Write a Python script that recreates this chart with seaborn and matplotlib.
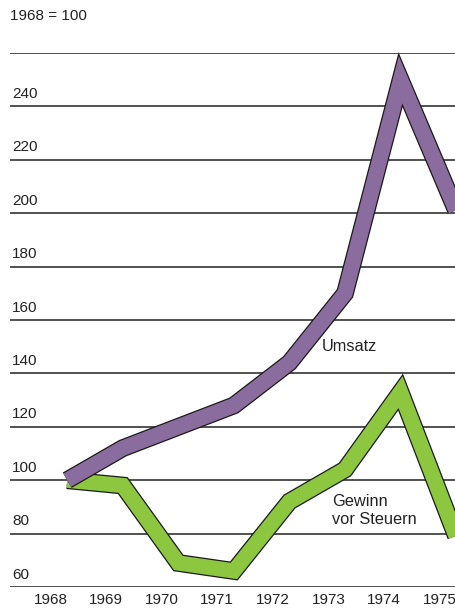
import numpy as np
import seaborn as sns
import matplotlib.pyplot as plt
import matplotlib.patheffects as pe

years = [1968, 1969, 1970, 1971, 1972, 1973, 1974, 1975]
umsatz = [100, 112, 120, 128, 144, 170, 250, 201]
gewinn = [100, 98, 69, 66, 92, 104, 133, 79]
y_ticks = [60, 80, 100, 120, 140, 160, 180, 200, 220, 240]

sns.set_style('white')
plt.rcParams['font.family'] = ['Liberation Sans', 'DejaVu Sans']

fig = plt.figure(figsize=(4.55, 6.08), dpi=100)
ax = fig.add_axes([10 / 455, 21 / 608, 445 / 455, 534 / 608])

x_pos = np.array(years) + 0.3

for vals, col in [(gewinn, '#8dc63f'), (umsatz, '#8a6c9e')]:
    sns.lineplot(x=x_pos, y=vals, ax=ax, color=col, lw=11,
                 solid_joinstyle='miter', solid_capstyle='butt', clip_on=False,
                 path_effects=[pe.Stroke(linewidth=12.8, foreground='#1a1a1a', joinstyle='miter',
                                         capstyle='butt'),
                               pe.Normal()], zorder=3)

for v in y_ticks + [260]:
    ax.axhline(v, color='#222222', lw=1.1, zorder=1)
for v in y_ticks:
    ax.text(2 / 445, v + 2.0, str(v), transform=ax.get_yaxis_transform(),
            ha='left', va='bottom', fontsize=11, color='#222222')

ax.set_xlim(1967.27, 1975.28)
ax.set_ylim(60, 260)
ax.set_xticks(years)
ax.set_xticklabels([str(y) for y in years], fontsize=11, color='#222222')
ax.tick_params(axis='x', length=0, pad=4)
ax.set_yticks([])
sns.despine(ax=ax, left=True, bottom=True)
ax.set_xlabel('')
ax.set_ylabel('')

ax.text(1972.89, 150, 'Umsatz', fontsize=11.8, color='#222222', ha='left', va='center')
ax.text(1973.06, 88.7, 'Gewinn\nvor Steuern', fontsize=11.8, color='#222222',
        ha='left', va='center', linespacing=1.3)

fig.text(10 / 455, 1 - 16 / 608, '1968 = 100', fontsize=11, color='#222222',
         ha='left', va='center')

fig.savefig('out.png', dpi=100)
